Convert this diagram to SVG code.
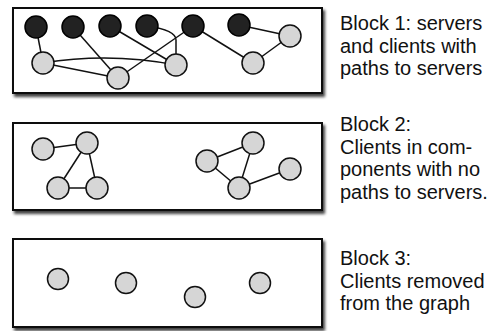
<svg xmlns="http://www.w3.org/2000/svg" width="493" height="331" viewBox="0 0 493 331">
<defs>
<filter id="sh" x="-5%" y="-10%" width="115%" height="130%">
<feGaussianBlur in="SourceAlpha" stdDeviation="1.8"/>
<feOffset dx="2" dy="3" result="b"/>
<feComponentTransfer><feFuncA type="linear" slope="0.75"/></feComponentTransfer>
<feMerge><feMergeNode/><feMergeNode in="SourceGraphic"/></feMerge>
</filter>
</defs>
<style>
.box{fill:#fff;stroke:#111;stroke-width:2;filter:url(#sh)}
.srv{fill:#222;stroke:#000;stroke-width:1.5}
.cli{fill:#d6d6d6;stroke:#111;stroke-width:1.5}
.e{fill:none;stroke:#111;stroke-width:1.5}
.t{font-family:"Liberation Sans",Arial,sans-serif;font-size:20px;fill:#111}
</style>
<rect width="493" height="331" fill="#fff"/>
<g id="block1-frame"><rect class="box" x="13" y="8" width="309" height="85"/></g>
<g id="block2-frame"><rect class="box" x="13" y="123" width="309" height="87"/></g>
<g id="block3-frame"><rect class="box" x="13" y="239" width="309" height="88"/></g>
<g id="connectors">
<line class="e" x1="36" y1="27" x2="43" y2="63"/>
<line class="e" x1="73" y1="27" x2="118" y2="78"/>
<line class="e" x1="110" y1="26" x2="176" y2="65"/>
<path class="e" d="M147,26 Q176,30 176,40 L176,65"/>
<line class="e" x1="193" y1="26" x2="118" y2="78"/>
<line class="e" x1="193" y1="26" x2="253" y2="63"/>
<line class="e" x1="239" y1="25" x2="290" y2="36"/>
<line class="e" x1="253" y1="63" x2="290" y2="36"/>
<line class="e" x1="43" y1="63" x2="118" y2="78"/>
<path class="e" d="M43,63 Q110,52 176,65"/>
<line class="e" x1="43" y1="149" x2="87" y2="143"/>
<line class="e" x1="87" y1="143" x2="58" y2="188"/>
<line class="e" x1="87" y1="143" x2="97" y2="188"/>
<line class="e" x1="58" y1="188" x2="97" y2="188"/>
<line class="e" x1="207" y1="161" x2="253" y2="143"/>
<line class="e" x1="207" y1="161" x2="239" y2="188"/>
<line class="e" x1="253" y1="143" x2="239" y2="188"/>
<line class="e" x1="239" y1="188" x2="290" y2="169"/>
</g>
<g id="s1"><circle class="srv" cx="36" cy="27" r="11"/></g>
<g id="s2"><circle class="srv" cx="73" cy="27" r="11"/></g>
<g id="s3"><circle class="srv" cx="110" cy="26" r="11"/></g>
<g id="s4"><circle class="srv" cx="147" cy="26" r="11"/></g>
<g id="s5"><circle class="srv" cx="193" cy="26" r="11"/></g>
<g id="s6"><circle class="srv" cx="239" cy="25" r="11"/></g>
<g id="c1"><circle class="cli" cx="43" cy="63" r="11"/></g>
<g id="c2"><circle class="cli" cx="118" cy="78" r="11"/></g>
<g id="c3"><circle class="cli" cx="176" cy="65" r="11"/></g>
<g id="c4"><circle class="cli" cx="253" cy="63" r="11"/></g>
<g id="c5"><circle class="cli" cx="290" cy="36" r="11"/></g>
<g id="b2a"><circle class="cli" cx="43" cy="149" r="11"/></g>
<g id="b2b"><circle class="cli" cx="87" cy="143" r="11"/></g>
<g id="b2c"><circle class="cli" cx="58" cy="188" r="11"/></g>
<g id="b2d"><circle class="cli" cx="97" cy="188" r="11"/></g>
<g id="b2e"><circle class="cli" cx="207" cy="161" r="11"/></g>
<g id="b2f"><circle class="cli" cx="253" cy="143" r="11"/></g>
<g id="b2g"><circle class="cli" cx="239" cy="188" r="11"/></g>
<g id="b2h"><circle class="cli" cx="290" cy="169" r="11"/></g>
<g id="b3a"><circle class="cli" cx="58" cy="279" r="10.5"/></g>
<g id="b3b"><circle class="cli" cx="126" cy="283" r="10.5"/></g>
<g id="b3c"><circle class="cli" cx="195" cy="297" r="10.5"/></g>
<g id="b3d"><circle class="cli" cx="260" cy="283" r="10.5"/></g>
<g id="label1"><text class="t" x="340" y="30">Block 1: servers</text><text class="t" x="340" y="52.5">and clients with</text><text class="t" x="340" y="75">paths to servers</text></g>
<g id="label2"><text class="t" x="340" y="131">Block 2:</text><text class="t" x="340" y="153.5">Clients in com-</text><text class="t" x="340" y="176">ponents with no</text><text class="t" x="340" y="198.5">paths to servers.</text></g>
<g id="label3"><text class="t" x="340" y="265">Block 3:</text><text class="t" x="340" y="287.5">Clients removed</text><text class="t" x="340" y="310">from the graph</text></g>
</svg>
